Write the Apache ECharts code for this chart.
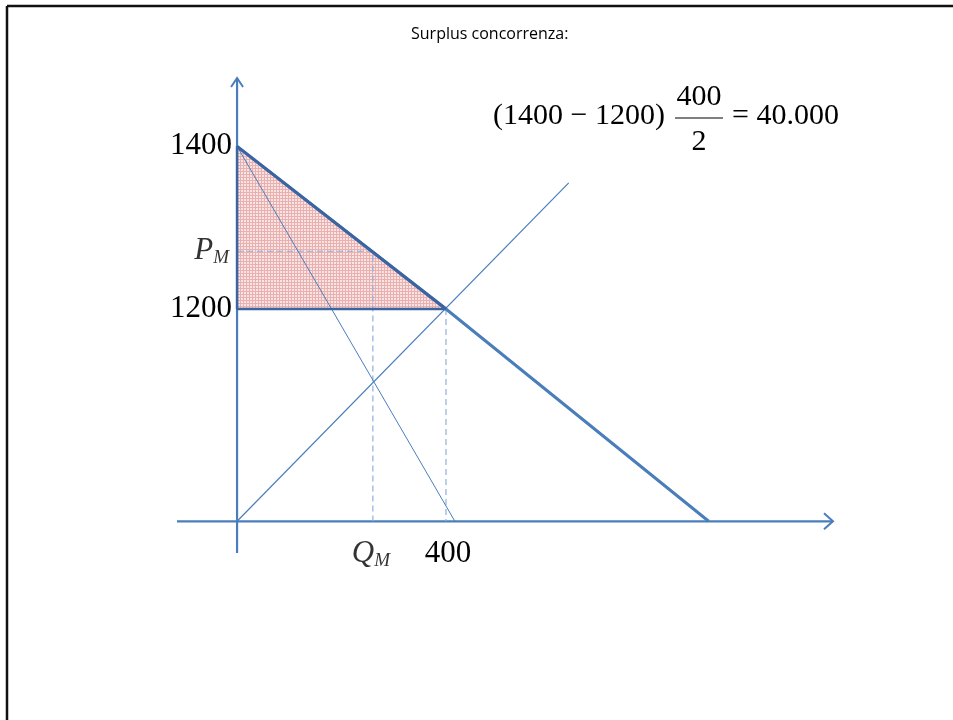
<!DOCTYPE html>
<html>
<head>
<meta charset="utf-8">
<script src="https://cdn.jsdelivr.net/npm/echarts@6/dist/echarts.min.js"></script>
<style>
html,body{margin:0;padding:0;background:#fff;}
#chart{width:953px;height:720px;}
</style>
</head>
<body>
<div id="chart"></div>
<script>
// ---- data (quantity, price) ----
var axisRangeQ = [-115, 1141];
var axisRangeP = [900, 1484];
var origin = [0, 939];
var demand = [[0, 1400], [400, 1200], [903, 939]];
var marginalRevenue = [[0, 1400], [417, 939]];
var supply = [[0, 939], [635, 1355]];
var surplusTriangle = [[0, 1400], [0, 1200], [400, 1200], [0, 1400]];
var PM = 1271, QM = 260, Qc = 400, Pc = 1200, Pmax = 1400;
var yTickLabels = [[1400, '1400'], [1200, '1200']];
var xTickLabels = [[400, '400']];

var blue = '#4a7ebb';
var darkBlue = '#3b64a0';

// hatch pattern for the surplus area
var pc = document.createElement('canvas');
pc.width = 3; pc.height = 3;
var pctx = pc.getContext('2d');
pctx.fillStyle = '#f9e4e4'; pctx.fillRect(0, 0, 3, 3);
pctx.fillStyle = '#eab0b0'; pctx.fillRect(0, 0, 3, 1); pctx.fillRect(0, 0, 1, 3);

var chart = echarts.init(document.getElementById('chart'));

function seg(data, color, width, type, z) {
  return {type: 'line', data: data, symbol: 'none', silent: true, z: z || 2,
    lineStyle: {color: color, width: width, type: type || 'solid'}, animation: false};
}

var subRich = {
  p: {fontFamily: 'Liberation Serif', fontStyle: 'italic', fontSize: 31, color: '#000', textBorderWidth: 0},
  s: {fontFamily: 'Liberation Serif', fontStyle: 'italic', fontSize: 19, color: '#000', textBorderWidth: 0, verticalAlign: 'bottom', padding: [14, 0, 0, 0]}
};
var numLabel = {fontFamily: 'Liberation Serif', fontSize: 31, color: '#000', textBorderWidth: 0, opacity: 1};

var series = [
  {type: 'line', data: surplusTriangle, symbol: 'none', silent: true, z: 1, animation: false,
   lineStyle: {width: 0}, areaStyle: {color: {image: pc, repeat: 'repeat'}, opacity: 1, origin: 'start'}},
  // axes
  seg([[axisRangeQ[0], origin[1]], [axisRangeQ[1], origin[1]]], blue, 2.2),
  seg([[origin[0], axisRangeP[0]], [origin[0], axisRangeP[1]]], blue, 2.2),
  // dashed guides
  seg([[0, PM], [QM, PM], [QM, origin[1]]], '#8eaedb', 1.2, [6, 4]),
  seg([[Qc, Pc], [Qc, origin[1]]], '#8eaedb', 1.2, [6, 4]),
  // supply & MR
  seg(supply, blue, 1.2),
  seg(marginalRevenue, blue, 1),
  // triangle edges
  seg([[0, Pmax], [0, Pc], [Qc, Pc]], darkBlue, 2.5, 'solid', 3),
  // demand
  seg(demand, blue, 3, 'solid', 4),
  seg(demand.slice(0, 2), darkBlue, 3, 'solid', 4),
  // arrowheads
  {type: 'custom', silent: true, z: 5, animation: false,
   data: [[axisRangeQ[1], origin[1], 0], [origin[0], axisRangeP[1], 1]],
   renderItem: function (params, api) {
     var p = api.coord([api.value(0), api.value(1)]);
     var pts = api.value(2) === 0
       ? [[p[0] - 9, p[1] - 8], [p[0], p[1]], [p[0] - 9, p[1] + 8]]
       : [[p[0] - 6, p[1] + 9], [p[0], p[1]], [p[0] + 6, p[1] + 9]];
     return {type: 'polyline', shape: {points: pts}, style: {stroke: blue, lineWidth: 2, fill: null}};
   }},
  // tick labels on y axis
  {type: 'scatter', symbolSize: 0, silent: true, animation: false,
   data: yTickLabels.map(function (t) { return {value: [origin[0], t[0]], name: t[1]}; }),
   label: Object.assign({show: true, position: 'left', distance: 5, formatter: '{b}'}, numLabel)},
  {type: 'scatter', symbolSize: 0, silent: true, animation: false,
   data: [{value: [origin[0], PM], name: 'PM'}],
   label: Object.assign({show: true, position: 'left', distance: 8, formatter: '{p|P}{s|M}', rich: subRich}, {color: '#000', textBorderWidth: 0})},
  {type: 'scatter', symbolSize: 0, silent: true, animation: false,
   data: xTickLabels.map(function (t) { return {value: [t[0], origin[1]], name: t[1]}; }),
   label: Object.assign({show: true, position: 'bottom', distance: 17, offset: [2, 0], formatter: '{b}'}, numLabel)},
  {type: 'scatter', symbolSize: 0, silent: true, animation: false,
   data: [{value: [QM, origin[1]], name: 'QM'}],
   label: Object.assign({show: true, position: 'bottom', distance: 16, offset: [-2, 0], formatter: '{p|Q}{s|M}', rich: subRich}, {color: '#000', textBorderWidth: 0})}
];

chart.setOption({
  animation: false,
  grid: {left: 177, right: 120, top: 78, bottom: 167},
  xAxis: {type: 'value', min: axisRangeQ[0], max: axisRangeQ[1], show: false},
  yAxis: {type: 'value', min: axisRangeP[0], max: axisRangeP[1], show: false},
  graphic: [
    {type: 'line', shape: {x1: 7, y1: 6, x2: 953, y2: 6}, style: {stroke: '#111', lineWidth: 2.5}},
    {type: 'line', shape: {x1: 7, y1: 6, x2: 7, y2: 720}, style: {stroke: '#111', lineWidth: 2.5}},
    {type: 'text', x: 411, y: 26, style: {text: 'Surplus concorrenza:', font: '16px "Open Sans"', fill: '#000'}},
    {type: 'text', x: 493, y: 116, style: {text: '(1400 \u2212 1200)', font: '30px "Liberation Serif"', fill: '#000', textVerticalAlign: 'middle'}},
    {type: 'text', x: 699, y: 97, style: {text: '400', font: '30px "Liberation Serif"', fill: '#000', textAlign: 'center', textVerticalAlign: 'middle'}},
    {type: 'line', shape: {x1: 675, y1: 118, x2: 723, y2: 118}, style: {stroke: '#000', lineWidth: 1.2}},
    {type: 'text', x: 699, y: 142, style: {text: '2', font: '30px "Liberation Serif"', fill: '#000', textAlign: 'center', textVerticalAlign: 'middle'}},
    {type: 'text', x: 732, y: 116, style: {text: '= 40.000', font: '30px "Liberation Serif"', fill: '#000', textVerticalAlign: 'middle'}}
  ],
  series: series
});
</script>
</body>
</html>
